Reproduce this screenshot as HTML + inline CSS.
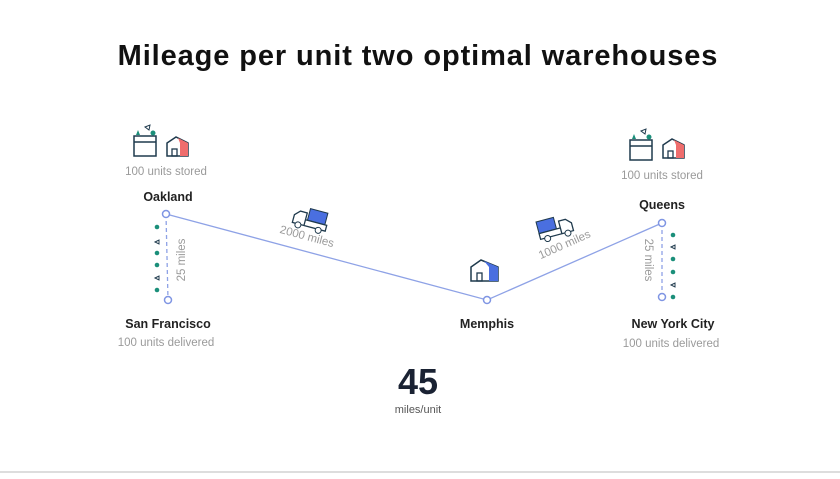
<!DOCTYPE html>
<html><head><style>
body{margin:0;background:#fff;width:840px;height:474px;overflow:hidden;font-family:"Liberation Sans",sans-serif}
</style></head><body>
<svg width="840" height="474" viewBox="0 0 840 474" xmlns="http://www.w3.org/2000/svg" font-family="Liberation Sans, sans-serif">
<text x="418" y="65" text-anchor="middle" font-size="29" font-weight="bold" letter-spacing="0.9" fill="#111">Mileage per unit two optimal warehouses</text>
<polyline points="166,214 487,300 662,223" fill="none" stroke="#8ea2e6" stroke-width="1.3"/>
<line x1="166" y1="214" x2="168" y2="300" stroke="#8ea2e6" stroke-width="1.3" stroke-dasharray="4,3"/>
<line x1="662" y1="223" x2="662" y2="297" stroke="#8ea2e6" stroke-width="1.3" stroke-dasharray="4,3"/>
<g fill="#fff" stroke="#7f95e3" stroke-width="1.5">
<circle cx="166" cy="214" r="3.5"/><circle cx="168" cy="300" r="3.5"/><circle cx="487" cy="300" r="3.5"/><circle cx="662" cy="223" r="3.5"/><circle cx="662" cy="297" r="3.5"/>
</g>
<g font-size="12.5" font-weight="bold" fill="#222" text-anchor="middle">
<text x="168" y="201">Oakland</text><text x="168" y="328">San Francisco</text><text x="487" y="328">Memphis</text><text x="662" y="209">Queens</text><text x="673" y="328">New York City</text>
</g>
<g font-size="11.5" fill="#9a9a9a" text-anchor="middle">
<text x="166" y="175">100 units stored</text><text x="166" y="346">100 units delivered</text>
<text x="662" y="179">100 units stored</text><text x="671" y="347">100 units delivered</text>
<text transform="translate(185,260) rotate(-90)">25 miles</text>
<text transform="translate(645,260) rotate(90)">25 miles</text>
<text transform="translate(306,240) rotate(15)">2000 miles</text>
<text transform="translate(566,248) rotate(-24)">1000 miles</text>
</g>
<text x="418" y="394" text-anchor="middle" font-size="36" font-weight="bold" fill="#1a2233">45</text>
<text x="418" y="413" text-anchor="middle" font-size="11" fill="#555">miles/unit</text>
<g transform="translate(133,124)">
<rect x="1" y="12" width="22" height="20" fill="#fff" stroke="#1f3a4d" stroke-width="1.5"/>
<line x1="1" y1="18" x2="23" y2="18" stroke="#1f3a4d" stroke-width="1.5"/>
<path d="M3,11 l2,-5 l2,5z" fill="#1b8f7a"/>
<path d="M12,3 l5,-2 l-1,5z" fill="none" stroke="#1f3a4d"/>
<circle cx="20" cy="9" r="2.5" fill="#1b8f7a"/>
<path d="M34,32 V19 L43,13 L55,19 V32 Z" fill="#fff" stroke="#1f3a4d" stroke-width="1.5"/>
<path d="M45,14 L55,19 V32 H47 V19 Z" fill="#ef6d6d"/>
<rect x="39" y="25" width="5" height="7" fill="none" stroke="#1f3a4d" stroke-width="1.3"/>
</g>
<g transform="translate(629,128)">
<rect x="1" y="12" width="22" height="20" fill="#fff" stroke="#1f3a4d" stroke-width="1.5"/>
<line x1="1" y1="18" x2="23" y2="18" stroke="#1f3a4d" stroke-width="1.5"/>
<path d="M3,11 l2,-5 l2,5z" fill="#1b8f7a"/>
<path d="M12,3 l5,-2 l-1,5z" fill="none" stroke="#1f3a4d"/>
<circle cx="20" cy="9" r="2.5" fill="#1b8f7a"/>
<path d="M34,30 V17 L43,11 L55,17 V30 Z" fill="#fff" stroke="#1f3a4d" stroke-width="1.5"/>
<path d="M45,12 L55,17 V30 H47 V17 Z" fill="#ef6d6d"/>
<rect x="39" y="23" width="5" height="7" fill="none" stroke="#1f3a4d" stroke-width="1.3"/>
</g>
<g transform="translate(471,258)">
<path d="M0,23 V9 L10,2 L27,9 V23 Z" fill="#fff" stroke="#1f3a4d" stroke-width="1.5"/>
<path d="M13,3 L27,9 V23 H18 V9 Z" fill="#4a6fe0"/>
<rect x="6" y="15" width="5" height="8" fill="none" stroke="#1f3a4d" stroke-width="1.3"/>
</g>
<g transform="translate(297,205) rotate(15)">
<rect x="14" y="0" width="18" height="12" fill="#4a6fe0" stroke="#1f3a4d"/>
<path d="M0,18 V10 L5,5 H12 V18 Z M12,12 H34 V18 H12" fill="#fff" stroke="#1f3a4d" stroke-width="1.3"/>
<circle cx="6" cy="19" r="3" fill="#fff" stroke="#1f3a4d"/><circle cx="27" cy="19" r="3" fill="#fff" stroke="#1f3a4d"/>
</g>
<g transform="translate(536,222) rotate(-15)">
<rect x="0" y="0" width="18" height="12" fill="#4a6fe0" stroke="#1f3a4d"/>
<path d="M34,18 V10 L29,5 H22 V18 Z M0,12 H22 V18 H0 Z" fill="#fff" stroke="#1f3a4d" stroke-width="1.3"/>
<circle cx="7" cy="19" r="3" fill="#fff" stroke="#1f3a4d"/><circle cx="28" cy="19" r="3" fill="#fff" stroke="#1f3a4d"/>
</g>
<g fill="#1b8f7a">
<circle cx="157" cy="227" r="2.3"/><path d="M155,242 l4,-2 l0,4z" fill="none" stroke="#1f3a4d"/><circle cx="157" cy="253" r="2.3"/><circle cx="157" cy="265" r="2.3"/><path d="M155,278 l4,-2 l0,4z" fill="none" stroke="#1f3a4d"/><circle cx="157" cy="290" r="2.3"/>
<circle cx="673" cy="235" r="2.3"/><path d="M671,247 l4,-2 l0,4z" fill="none" stroke="#1f3a4d"/><circle cx="673" cy="259" r="2.3"/><circle cx="673" cy="272" r="2.3"/><path d="M671,285 l4,-2 l0,4z" fill="none" stroke="#1f3a4d"/><circle cx="673" cy="297" r="2.3"/>
</g>
<line x1="0" y1="472" x2="840" y2="472" stroke="#bbb" stroke-width="1"/>
</svg>
</body></html>
